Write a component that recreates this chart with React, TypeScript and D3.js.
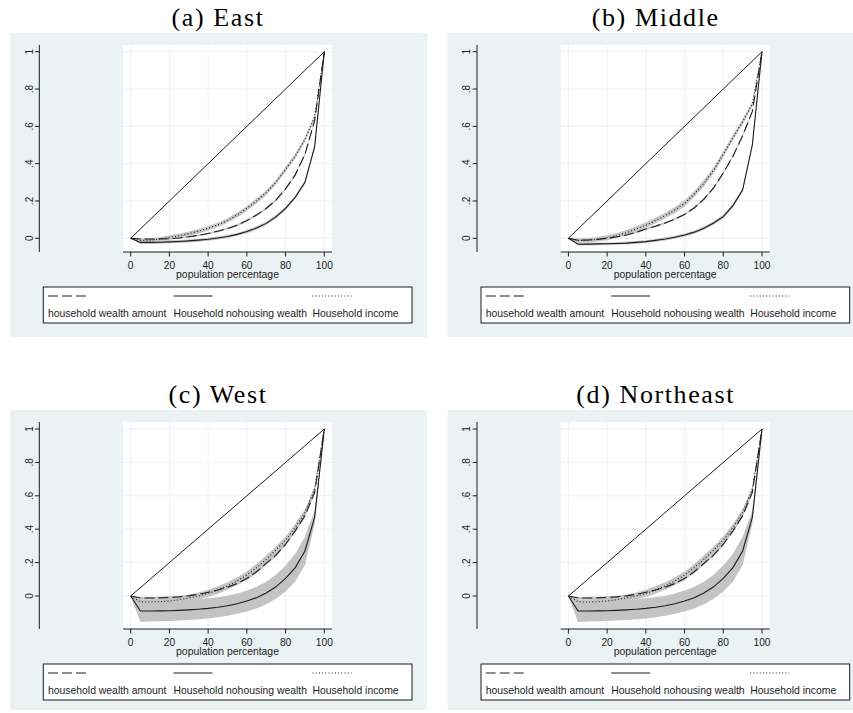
import React from "react";
import * as d3 from "d3";

// population percentiles (x) shared by every curve
const pct = [0, 5, 10, 15, 20, 25, 30, 35, 40, 45, 50, 55, 60, 65, 70, 75, 80, 85, 90, 95, 100];

const xTicks = [0, 20, 40, 60, 80, 100];
const yTicks = [0, 0.2, 0.4, 0.6, 0.8, 1];
const yTickLabels = ["0", ".2", ".4", ".6", ".8", "1"];

const seriesNames = ["household wealth amount", "Household nohousing wealth", "Household income"];
const panelTitles = ["(a) East", "(b) Middle", "(c) West", "(d) Northeast"];

// (a) East
const eastWealth = [0, -0.004, -0.004, -0.003, -0.002, 0.002, 0.008, 0.016, 0.026, 0.038, 0.052, 0.07, 0.095, 0.125, 0.16, 0.205, 0.265, 0.34, 0.45, 0.63, 1];
const eastNohousing = [0, -0.022, -0.022, -0.021, -0.019, -0.017, -0.014, -0.01, -0.005, 0.002, 0.01, 0.021, 0.036, 0.055, 0.08, 0.115, 0.16, 0.22, 0.3, 0.49, 1];
const eastIncome = [0, -0.012, -0.01, -0.004, 0.005, 0.014, 0.025, 0.038, 0.054, 0.072, 0.095, 0.125, 0.16, 0.2, 0.245, 0.3, 0.37, 0.44, 0.53, 0.65, 1];
const eastWealthCi = [0, 0.004, 0.004, 0.004, 0.004, 0.004, 0.004, 0.004, 0.004, 0.005, 0.005, 0.005, 0.005, 0.005, 0.005, 0.006, 0.006, 0.006, 0.006, 0.006, 0];
const eastNohousingCi = [0, 0.008, 0.008, 0.008, 0.008, 0.008, 0.008, 0.008, 0.008, 0.008, 0.008, 0.008, 0.009, 0.009, 0.009, 0.01, 0.01, 0.01, 0.01, 0.01, 0];
const eastIncomeCi = [0, 0.01, 0.01, 0.01, 0.011, 0.011, 0.011, 0.012, 0.012, 0.012, 0.012, 0.013, 0.013, 0.013, 0.013, 0.013, 0.013, 0.013, 0.012, 0.01, 0];

// (b) Middle
const midWealth = [0, -0.01, -0.009, -0.006, 0, 0.008, 0.018, 0.032, 0.05, 0.065, 0.082, 0.103, 0.128, 0.163, 0.21, 0.27, 0.35, 0.44, 0.55, 0.68, 1];
const midNohousing = [0, -0.032, -0.031, -0.03, -0.029, -0.028, -0.026, -0.022, -0.018, -0.011, -0.004, 0.006, 0.018, 0.033, 0.054, 0.082, 0.116, 0.175, 0.26, 0.5, 1];
const midIncome = [0, -0.012, -0.01, -0.005, 0.003, 0.014, 0.03, 0.05, 0.07, 0.095, 0.122, 0.152, 0.187, 0.237, 0.295, 0.365, 0.45, 0.54, 0.625, 0.72, 1];
const midWealthCi = [0, 0.004, 0.004, 0.004, 0.004, 0.004, 0.004, 0.005, 0.005, 0.005, 0.005, 0.005, 0.005, 0.006, 0.006, 0.006, 0.006, 0.006, 0.006, 0.006, 0];
const midNohousingCi = [0, 0.007, 0.007, 0.007, 0.007, 0.007, 0.007, 0.007, 0.007, 0.007, 0.008, 0.008, 0.008, 0.008, 0.009, 0.009, 0.01, 0.01, 0.01, 0.01, 0];
const midIncomeCi = [0, 0.012, 0.012, 0.012, 0.013, 0.013, 0.014, 0.014, 0.015, 0.015, 0.015, 0.016, 0.016, 0.016, 0.016, 0.016, 0.016, 0.015, 0.014, 0.012, 0];

// (c) West
const westWealth = [0, -0.012, -0.012, -0.011, -0.009, -0.005, 0.001, 0.01, 0.022, 0.036, 0.053, 0.075, 0.105, 0.145, 0.195, 0.245, 0.31, 0.39, 0.48, 0.62, 1];
const westNohousing = [0, -0.09, -0.09, -0.089, -0.088, -0.086, -0.083, -0.079, -0.074, -0.067, -0.058, -0.046, -0.03, -0.01, 0.018, 0.055, 0.105, 0.17, 0.27, 0.47, 1];
const westIncome = [0, -0.035, -0.036, -0.034, -0.03, -0.022, -0.012, 0, 0.016, 0.036, 0.06, 0.09, 0.125, 0.17, 0.22, 0.275, 0.335, 0.41, 0.5, 0.64, 1];
const westWealthCi = [0, 0.006, 0.006, 0.006, 0.007, 0.007, 0.007, 0.008, 0.008, 0.008, 0.008, 0.009, 0.009, 0.009, 0.009, 0.009, 0.009, 0.009, 0.009, 0.008, 0];
const westNohousingCi = [0, 0.065, 0.063, 0.062, 0.061, 0.06, 0.06, 0.06, 0.06, 0.06, 0.06, 0.061, 0.063, 0.065, 0.068, 0.072, 0.078, 0.083, 0.085, 0.04, 0];
const westIncomeCi = [0, 0.016, 0.017, 0.018, 0.019, 0.02, 0.02, 0.021, 0.021, 0.022, 0.022, 0.022, 0.022, 0.022, 0.022, 0.022, 0.022, 0.021, 0.02, 0.016, 0];

// (d) Northeast – reads the same as West in the picture
const neWealth = [0, -0.012, -0.012, -0.011, -0.009, -0.005, 0.001, 0.01, 0.022, 0.036, 0.053, 0.075, 0.105, 0.145, 0.195, 0.245, 0.31, 0.39, 0.48, 0.62, 1];
const neNohousing = [0, -0.09, -0.09, -0.089, -0.088, -0.086, -0.083, -0.079, -0.074, -0.067, -0.058, -0.046, -0.03, -0.01, 0.018, 0.055, 0.105, 0.17, 0.27, 0.47, 1];
const neIncome = [0, -0.035, -0.036, -0.034, -0.03, -0.022, -0.012, 0, 0.016, 0.036, 0.06, 0.09, 0.125, 0.17, 0.22, 0.275, 0.335, 0.41, 0.5, 0.64, 1];
const neWealthCi = westWealthCi;
const neNohousingCi = westNohousingCi;
const neIncomeCi = westIncomeCi;

const BG = "#eaf2f3";
const INK = "#1c1c1c";
const BAND = "#c3c3c3";
const SANS = "'Liberation Sans', Arial, Helvetica, sans-serif";
const SERIF = "'Liberation Serif', 'Times New Roman', serif";

const dashes = ["10 4", null, "1 2.2"];

function Panel({ title, dx, dy, bgH, y0, y1, series, cis }) {
  const x = d3.scaleLinear().domain([0, 100]).range([130.7, 324.3]);
  const y = d3.scaleLinear().domain([0, 1]).range([y0, y1]);

  const line = d3.line<number>()
    .x((d, i) => x(pct[i]))
    .y(d => y(d));

  const band = (vals, ci) =>
    d3.area<number>()
      .x((d, i) => x(pct[i]))
      .y0((d, i) => y(d - ci[i]))
      .y1((d, i) => y(d + ci[i]))(vals);

  const plotL = 123, plotR = 332, plotT = 45, plotB = 252;

  return (
    <g transform={`translate(${dx},${dy})`}>
      <text x={218} y={26} textAnchor="middle" fontFamily={SERIF} fontSize={26} letterSpacing={1.6}>{title}</text>
      <rect x={10} y={33} width={417} height={bgH} fill={BG} />
      <rect x={plotL} y={plotT} width={plotR - plotL} height={plotB - plotT} fill="#fff" />

      {/* grid */}
      {xTicks.map(t => (
        <line key={"gx" + t} x1={x(t)} x2={x(t)} y1={plotT} y2={plotB} stroke={BG} strokeWidth={1} />
      ))}
      {yTicks.map(t => (
        <line key={"gy" + t} x1={plotL} x2={plotR} y1={y(t)} y2={y(t)} stroke={BG} strokeWidth={1} />
      ))}

      {/* confidence bands */}
      {series.map((s, i) => (
        <path key={"b" + i} d={band(s, cis[i])} fill={BAND} stroke="none" />
      ))}

      {/* equality line */}
      <line x1={x(0)} y1={y(0)} x2={x(100)} y2={y(1)} stroke={INK} strokeWidth={1} />

      {series.map((s, i) => (
        <path key={"l" + i} d={line(s)} fill="none" stroke={INK} strokeWidth={1.1}
          strokeDasharray={dashes[i] || undefined} />
      ))}

      {/* y axis */}
      <line x1={39.3} x2={39.3} y1={plotT} y2={plotB} stroke={INK} strokeWidth={1} />
      {yTicks.map((t, i) => (
        <g key={"yt" + t}>
          <line x1={35} x2={39.3} y1={y(t)} y2={y(t)} stroke={INK} strokeWidth={1} />
          <text transform={`translate(32.5,${y(t)}) rotate(-90)`} textAnchor="middle"
            fontFamily={SANS} fontSize={10} fill={INK}>{yTickLabels[i]}</text>
        </g>
      ))}

      {/* x axis */}
      <line x1={plotL} x2={plotR} y1={plotB} y2={plotB} stroke={INK} strokeWidth={1} />
      {xTicks.map(t => (
        <g key={"xt" + t}>
          <line x1={x(t)} x2={x(t)} y1={plotB} y2={plotB + 4.5} stroke={INK} strokeWidth={1} />
          <text x={x(t)} y={268.5} textAnchor="middle" fontFamily={SANS} fontSize={10.2} fill={INK}>{t}</text>
        </g>
      ))}
      <text x={227.5} y={278} textAnchor="middle" fontFamily={SANS} fontSize={10.4} fill={INK}>population percentage</text>

      {/* legend */}
      <rect x={43.3} y={287} width={368.7} height={36} fill="#fff" stroke={INK} strokeWidth={1} />
      {seriesNames.map((n, i) => {
        const lx = [48, 173.5, 312.5][i];
        return (
          <g key={"lg" + i}>
            <line x1={lx} x2={lx + 39} y1={296} y2={296} stroke={INK} strokeWidth={1}
              strokeDasharray={dashes[i] || undefined} />
            <text x={lx} y={317} fontFamily={SANS} fontSize={10.4} fill={INK}>{n}</text>
          </g>
        );
      })}
    </g>
  );
}

export default function App() {
  const panels = [
    { title: panelTitles[0], dx: 0, dy: 0, bgH: 304, y0: 238.3, y1: 51.7,
      series: [eastWealth, eastNohousing, eastIncome], cis: [eastWealthCi, eastNohousingCi, eastIncomeCi] },
    { title: panelTitles[1], dx: 437.7, dy: 0, bgH: 304, y0: 238.3, y1: 51.7,
      series: [midWealth, midNohousing, midIncome], cis: [midWealthCi, midNohousingCi, midIncomeCi] },
    { title: panelTitles[2], dx: 0, dy: 377, bgH: 300, y0: 219, y1: 52,
      series: [westWealth, westNohousing, westIncome], cis: [westWealthCi, westNohousingCi, westIncomeCi] },
    { title: panelTitles[3], dx: 437.7, dy: 377, bgH: 300, y0: 219, y1: 52,
      series: [neWealth, neNohousing, neIncome], cis: [neWealthCi, neNohousingCi, neIncomeCi] },
  ];
  return (
    <svg width={853} height={713} style={{ position: "absolute", left: 0, top: 0, background: "#fff" }}>
      {panels.map((p, i) => <Panel key={i} {...p} />)}
    </svg>
  );
}
